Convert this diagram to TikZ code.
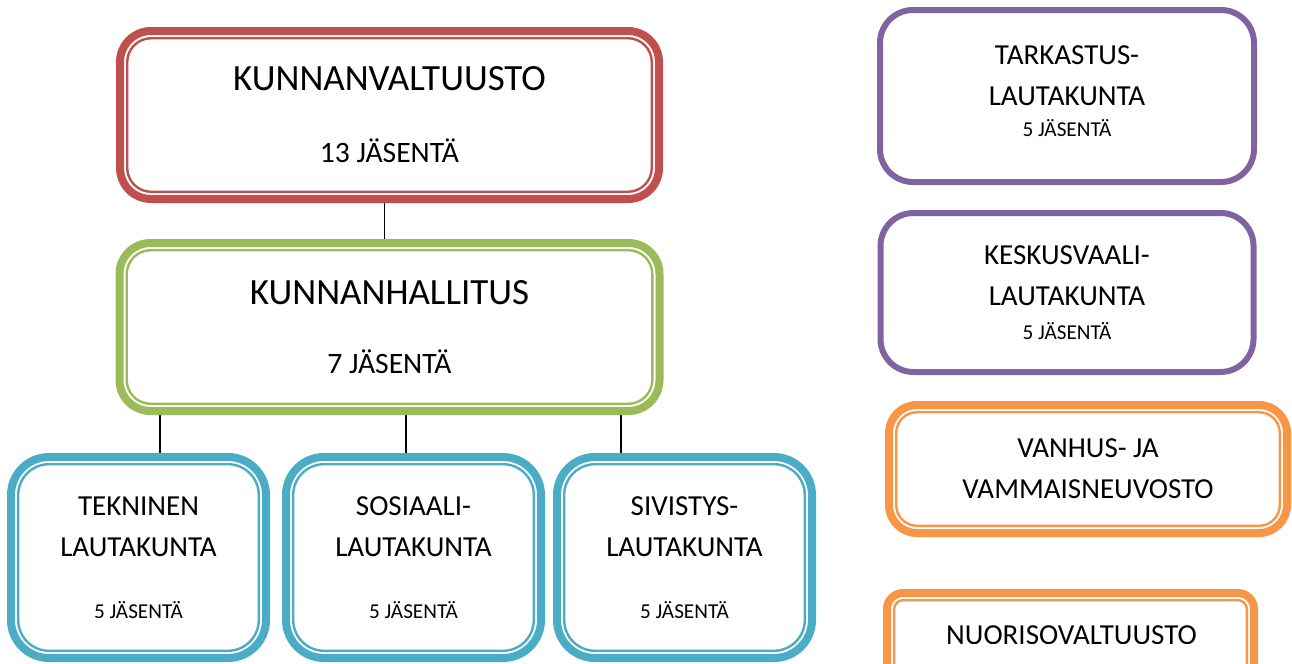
\documentclass[tikz,border=0pt]{standalone}
\usepackage{fontspec}
\setmainfont{Carlito}
\usepackage{tikz}
\usetikzlibrary{positioning, backgrounds}

\definecolor{valtred}{HTML}{C0504D}
\definecolor{hallgreen}{HTML}{9BBB59}
\definecolor{lautblue}{HTML}{4BACC6}
\definecolor{tarkpurple}{HTML}{8064A2}
\definecolor{neuvorange}{HTML}{F79646}

\begin{document}
\begin{tikzpicture}[
    x=0.5pt, y=-0.5pt,
    box/.style={rectangle, draw=#1, line width=4pt, fill=white, outer sep=0pt, inner sep=0pt, align=center},
    flatbox/.style={rectangle, draw=#1, line width=3pt, fill=white, outer sep=0pt, inner sep=0pt, align=center},
    innerline/.style={draw=#1, line width=1.2pt},
    big/.style={font=\fontsize{18.5}{22}\selectfont},
    mid/.style={font=\fontsize{14.5}{20.5}\selectfont},
    conn/.style={draw=black, line width=0.75pt}
]
\useasboundingbox (0,0) rectangle (1292,664);

% Valtuusto ja hallitus
\node[box=valtred, big, rounded corners=15.5pt, minimum width=269.5pt, minimum height=84pt] (valt) at (389.5,115)
    {KUNNANVALTUUSTO\\[14pt]{\fontsize{14.8}{18}\selectfont 13 JÄSENTÄ}};
\node[box=hallgreen, big, rounded corners=15.5pt, minimum width=270pt, minimum height=84pt, below=22pt of valt] (hall)
    {KUNNANHALLITUS\\[12.5pt]{\fontsize{14.8}{18}\selectfont 7 JÄSENTÄ}};

% Lautakunnat
\node[box=lautblue, mid, rounded corners=19pt, minimum width=127.5pt, minimum height=100.5pt] (tekn) at (138.5,557.5)
    {TEKNINEN\\LAUTAKUNTA\\[10.5pt]{\fontsize{10.6}{13}\selectfont 5 JÄSENTÄ}};
\node[box=lautblue, mid, rounded corners=19pt, minimum width=127.5pt, minimum height=100.5pt, right=10pt of tekn] (sos)
    {SOSIAALI-\\LAUTAKUNTA\\[10.5pt]{\fontsize{10.6}{13}\selectfont 5 JÄSENTÄ}};
\node[box=lautblue, mid, rounded corners=19pt, minimum width=127.5pt, minimum height=100.5pt, right=8pt of sos] (siv)
    {SIVISTYS-\\LAUTAKUNTA\\[10.5pt]{\fontsize{10.6}{13}\selectfont 5 JÄSENTÄ}};

% Oikea sarake
\node[flatbox=tarkpurple, mid, rounded corners=16.5pt, minimum width=187pt, minimum height=86pt, text depth=5pt] (tark) at (1067,96)
    {TARKASTUS-\\LAUTAKUNTA\\[-5pt]{\fontsize{10.6}{13}\selectfont 5 JÄSENTÄ}};
\node[flatbox=tarkpurple, mid, rounded corners=16.5pt, minimum width=186.5pt, minimum height=79.5pt, below=15.5pt of tark] (kesk)
    {KESKUSVAALI-\\LAUTAKUNTA\\[-3.5pt]{\fontsize{10.6}{13}\selectfont 5 JÄSENTÄ}};
\node[box=neuvorange, mid, rounded corners=14pt, minimum width=199pt, minimum height=64pt] (vanh) at (1088,469)
    {VANHUS- JA\\VAMMAISNEUVOSTO};
\node[box=neuvorange, rounded corners=8pt, minimum width=183.5pt, minimum height=60pt] (nuor) at (1070.5,653) {};
\begin{scope}
    \clip (880,580) rectangle (1262,643);
    \node[mid, anchor=base] (nuortext) at (1071.5,644) {NUORISOVALTUUSTO};
\end{scope}

% sisaviivat
\foreach \n/\c/\r in {valt/valtred/12pt, hall/hallgreen/12pt, tekn/lautblue/15.4pt, sos/lautblue/15.4pt,
                      siv/lautblue/15.4pt, vanh/neuvorange/10.4pt, nuor/neuvorange/4.4pt}
    \draw[innerline=\c, rounded corners=\r] ([shift={(3.6pt,-3.6pt)}]\n.north west) rectangle ([shift={(-3.6pt,3.6pt)}]\n.south east);

% Yhteydet
\begin{scope}[on background layer]
\draw[conn] ([xshift=-2.5pt]valt.south) -- ([xshift=-2.5pt]valt.south |- hall.north);
\draw[conn] (160,0 |- hall.south) -- (160,0 |- tekn.north);
\draw[conn] (406,0 |- hall.south) -- (406,0 |- sos.north);
\draw[conn] (621,0 |- hall.south) -- (621,0 |- siv.north);
\end{scope}

\end{tikzpicture}
\end{document}
